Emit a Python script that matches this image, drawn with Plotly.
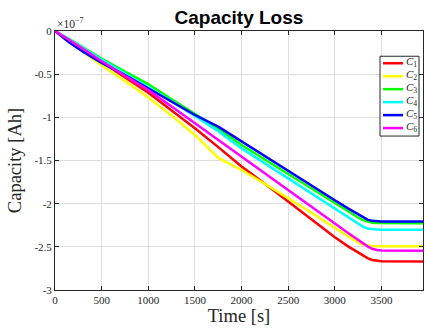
import plotly.graph_objects as go

# Time grid [s]
time_s = [0, 150, 300, 500, 750, 1000, 1250, 1500, 1750, 2000, 2250, 2500, 2750,
          3000, 3150, 3250, 3300, 3350, 3400, 3450, 3500, 3950]

# Capacity loss in units of 1e-7 Ah
C1 = [0, -0.10, -0.21, -0.36, -0.535, -0.716, -0.92, -1.127, -1.345, -1.57, -1.77, -1.975, -2.185,
      -2.39, -2.50, -2.57, -2.60, -2.63, -2.652, -2.664, -2.668, -2.670]
C2 = [0, -0.11, -0.24, -0.40, -0.58, -0.77, -0.98, -1.204, -1.47, -1.61, -1.77, -1.935, -2.105,
      -2.28, -2.385, -2.45, -2.474, -2.486, -2.491, -2.492, -2.492, -2.493]
C3 = [0, -0.09, -0.19, -0.32, -0.47, -0.615, -0.79, -0.96, -1.13, -1.32, -1.49, -1.66, -1.83,
      -2.00, -2.10, -2.16, -2.19, -2.21, -2.221, -2.225, -2.226, -2.227]
C4 = [0, -0.095, -0.195, -0.33, -0.49, -0.646, -0.815, -0.985, -1.16, -1.36, -1.535, -1.71, -1.885,
      -2.06, -2.16, -2.23, -2.265, -2.287, -2.297, -2.30, -2.301, -2.302]
C5 = [0, -0.13, -0.24, -0.37, -0.51, -0.665, -0.82, -0.973, -1.108, -1.28, -1.45, -1.62, -1.79,
      -1.96, -2.06, -2.125, -2.16, -2.185, -2.199, -2.205, -2.206, -2.207]
C6 = [0, -0.10, -0.205, -0.35, -0.515, -0.685, -0.875, -1.07, -1.26, -1.46, -1.65, -1.84, -2.035,
      -2.23, -2.345, -2.42, -2.46, -2.495, -2.523, -2.537, -2.542, -2.544]

series = [C1, C2, C3, C4, C5, C6]
names = ["<i>C</i><sub>1</sub>", "<i>C</i><sub>2</sub>", "<i>C</i><sub>3</sub>",
         "<i>C</i><sub>4</sub>", "<i>C</i><sub>5</sub>", "<i>C</i><sub>6</sub>"]
colors = ["#ff0000", "#ffff00", "#00ff00", "#00ffff", "#0000ff", "#ff00ff"]

x_ticks = [0, 500, 1000, 1500, 2000, 2500, 3000, 3500]
x_ticktext = ["0", "500", "1000", "1500", "2000", "2500", "3000", "3500"]
y_ticks = [0, -0.5, -1, -1.5, -2, -2.5, -3]
y_ticktext = ["0", "-0.5", "-1", "-1.5", "-2", "-2.5", "-3"]

serif = "Liberation Serif, DejaVu Serif, serif"
ink = "#262626"

fig = go.Figure()
for ys, nm, col in zip(series, names, colors):
    fig.add_trace(go.Scatter(x=time_s, y=ys, mode="lines", name=nm,
                             line=dict(color=col, width=2.5), showlegend=False))

axis_common = dict(
    showgrid=True, gridcolor="#dedede", gridwidth=1,
    showline=True, linecolor=ink, linewidth=1, mirror="ticks",
    ticks="inside", ticklen=4, tickcolor=ink,
    zeroline=False, tickfont=dict(family=serif, size=11, color=ink),
)

fig.update_xaxes(range=[0, 3945], tickvals=x_ticks, ticktext=x_ticktext,
                 title=dict(text="Time [s]", font=dict(family=serif, size=18.5, color=ink),
                            standoff=3),
                 **axis_common)
fig.update_yaxes(range=[-3, 0], tickvals=y_ticks, ticktext=y_ticktext,
                 title=dict(text="Capacity [Ah]", font=dict(family=serif, size=18.5, color=ink),
                            standoff=7),
                 **axis_common)

fig.add_annotation(text="×10<sup>−7</sup>", xref="paper", yref="paper", x=0, y=1,
                   xanchor="left", yanchor="bottom", showarrow=False, yshift=-1,
                   font=dict(family=serif, size=11.5, color=ink))

# Custom compact legend (MATLAB style box at upper right)
px_l, px_r, px_t, px_b = 55.0, 423.0, 30.7, 290.3
def xp(px):
    return (px - px_l) / (px_r - px_l)
def yp(py):
    return (px_b - py) / (px_b - px_t)

fig.add_shape(type="rect", xref="paper", yref="paper",
              x0=xp(380), x1=xp(419), y0=yp(136), y1=yp(56),
              line=dict(color=ink, width=1), fillcolor="white", layer="above")
for i, (nm, col) in enumerate(zip(names, colors)):
    cy = 63.0 + 13.0 * i
    fig.add_shape(type="line", xref="paper", yref="paper",
                  x0=xp(383), x1=xp(403), y0=yp(cy), y1=yp(cy),
                  line=dict(color=col, width=2.5), layer="above")
    fig.add_annotation(text=nm, xref="paper", yref="paper", x=xp(404), y=yp(cy),
                       xanchor="left", yanchor="middle", showarrow=False, yshift=1,
                       font=dict(family=serif, size=11, color=ink))

fig.update_layout(
    width=424, height=328,
    margin=dict(l=55, r=1, t=31, b=38),
    paper_bgcolor="white", plot_bgcolor="white",
    title=dict(text="<b>Capacity Loss</b>", x=0.5635, xanchor="center",
               y=0.948, yanchor="middle",
               font=dict(family="Liberation Sans, Arial, sans-serif", size=19, color="black")),
    showlegend=False,
)

fig.write_html("out.html")
